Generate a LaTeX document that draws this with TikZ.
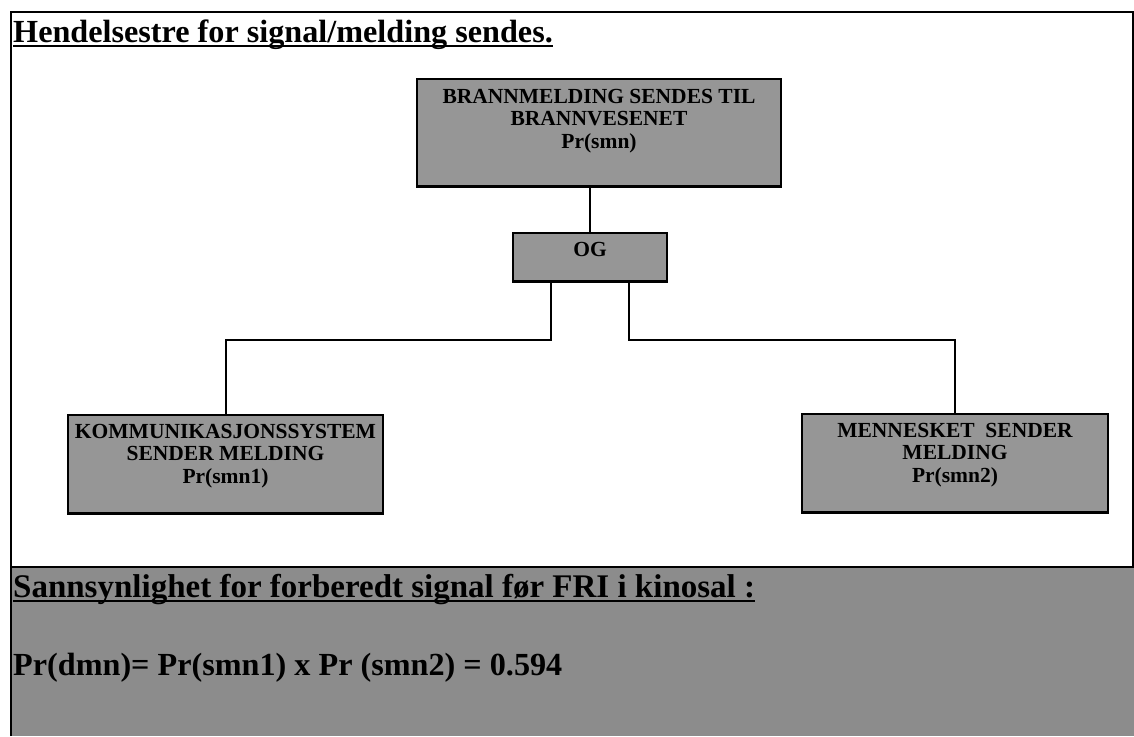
\documentclass[tikz,border=0pt]{standalone}
\usepackage{fontspec}
\setmainfont{Liberation Serif}
\usetikzlibrary{calc}
\definecolor{boxgray}{RGB}{150,150,150}
\definecolor{panelgray}{RGB}{140,140,140}
\newsavebox\myulbox
\newcommand\ulbar[2]{\sbox\myulbox{#2}\rlap{\rule[-#1]{\wd\myulbox}{2pt}}\usebox\myulbox}
\begin{document}
\begin{tikzpicture}[x=1pt,y=-1pt,
  box/.style={draw=black, line width=2.4pt, fill=boxgray,
    font=\bfseries\fontsize{21.5}{22.5}\selectfont, align=center,
    inner xsep=2pt, inner ysep=9pt, anchor=north},
  wire/.style={line width=2pt, draw=black},
  frame/.style={line width=2pt, draw=black}]
\useasboundingbox (0,0) rectangle (1134,736);
% bottom panel and frame
\fill[panelgray] (11,567) rectangle (1134,736);
\draw[frame] (11,736) -- (11,12) -- (1133,12) -- (1133,567);
\draw[frame, line width=2.2pt] (11,567) -- (1134,567);
% title
\node[anchor=base west, inner sep=0pt, font=\bfseries\fontsize{32.2}{32.2}\selectfont] (title) at (13,42)
  {\ulbar{5pt}{Hendelsestre for signal/melding sendes.}};
% boxes
\node[box, minimum width=364pt, inner ysep=10pt] (top) at (599,78)
  {BRANNMELDING SENDES TIL\\BRANNVESENET\\Pr(smn)\rule[-28pt]{0pt}{28pt}};
\node[box, minimum width=154pt, inner ysep=9pt] (og) at (590,232)
  {OG\rule[-16pt]{0pt}{16pt}};
\node[box, minimum width=315pt] (left) at (225.5,414)
  {KOMMUNIKASJONSSYSTEM\\SENDER MELDING\\Pr(smn1)\rule[-21pt]{0pt}{21pt}};
\node[box, minimum width=306pt] (right) at (955,413)
  {MENNESKET\ \ SENDER\\MELDING\\Pr(smn2)\rule[-21pt]{0pt}{21pt}};
% connectors
\draw[wire] (top.south -| og.north) -- (og.north);
\coordinate (sl) at ($(og.south west)!0.25!(og.south east)$);
\coordinate (sr) at ($(og.south west)!0.75!(og.south east)$);
\draw[wire] (sl) -- ++(0,57) -| (left.north);
\draw[wire] (sr) -- ++(0,57) -| (right.north);
% panel texts
\node[anchor=base west, inner sep=0pt, font=\bfseries\fontsize{33}{33}\selectfont] (q) at (13,597)
  {\ulbar{5pt}{Sannsynlighet for forberedt signal før FRI i kinosal :}};
\node[anchor=base west, inner sep=0pt, font=\bfseries\fontsize{32.2}{32.2}\selectfont] (eq) at (13,675)
  {Pr(dmn)= Pr(smn1) x Pr (smn2) = 0.594};
\end{tikzpicture}
\end{document}
